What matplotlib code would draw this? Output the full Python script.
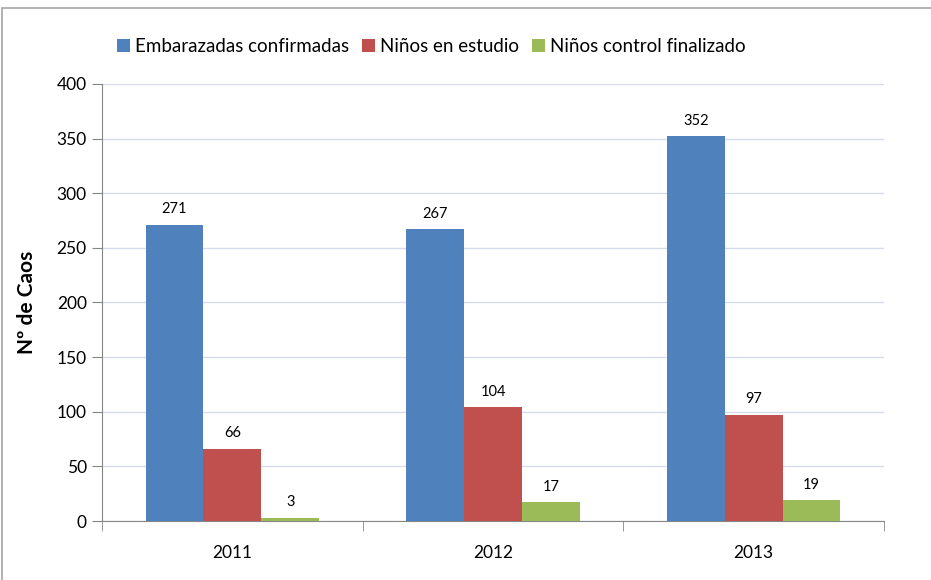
#!/usr/bin/env python3
import matplotlib
matplotlib.use('Agg')
import matplotlib.pyplot as plt
import matplotlib.patches as patches
import numpy as np

years = ['2011', '2012', '2013']
series = ['Embarazadas confirmadas', 'Niños en estudio', 'Niños control finalizado']
embarazadas = [271, 267, 352]
ninos_estudio = [66, 104, 97]
ninos_control = [3, 17, 19]
colors = ['#4F81BD', '#C0504D', '#9BBB59']

plt.rcParams['font.family'] = ['Lato', 'DejaVu Sans']

fig = plt.figure(figsize=(9.31, 5.8), dpi=100)
ax = fig.add_axes([0.1096, 0.1017, 0.8399, 0.7535])

# chart frame (left and top edges only show)
fig.patches.append(patches.Rectangle((0.002, -0.1), 1.2, 1.086, transform=fig.transFigure,
                                     fill=False, edgecolor='#a6a6a6', linewidth=1.2))

x = np.arange(len(years))
w = 0.222
for i, (vals, name) in enumerate(zip([embarazadas, ninos_estudio, ninos_control], series)):
    pos = x + (i - 1) * w
    ax.bar(pos, vals, w, color=colors[i], label=name, zorder=3)
    for p, v in zip(pos, vals):
        ax.text(p, v + 8, str(v), ha='center', va='bottom', fontsize=10.5)

ax.set_xlim(-0.5, 2.5)
ax.set_ylim(0, 400)
ax.set_yticks(range(0, 401, 50))
ax.set_xticks(x)
ax.set_xticklabels(years, fontsize=12.5)
ax.tick_params(axis='y', labelsize=12.5, length=7, color='#868686', pad=4)
ax.tick_params(axis='x', length=0, pad=17)
ax.set_xticks([-0.5, 0.5, 1.5, 2.5], minor=True)
ax.tick_params(axis='x', which='minor', length=7, color='#868686')
ax.grid(axis='y', color='#d5dcec', linewidth=1, zorder=0)
for s in ['top', 'right']:
    ax.spines[s].set_visible(False)
ax.spines['left'].set_color('#868686')
ax.spines['bottom'].set_color('#868686')
ax.set_ylabel('Nº de Caos', fontsize=15, fontweight='bold', labelpad=14)

ax.legend(loc='lower left', bbox_to_anchor=(0.01, 1.05), ncol=3, frameon=False,
          fontsize=13.5, handlelength=0.65, handleheight=0.7, handletextpad=0.3,
          columnspacing=0.7, borderaxespad=0)

plt.savefig('out.png', dpi=100)
